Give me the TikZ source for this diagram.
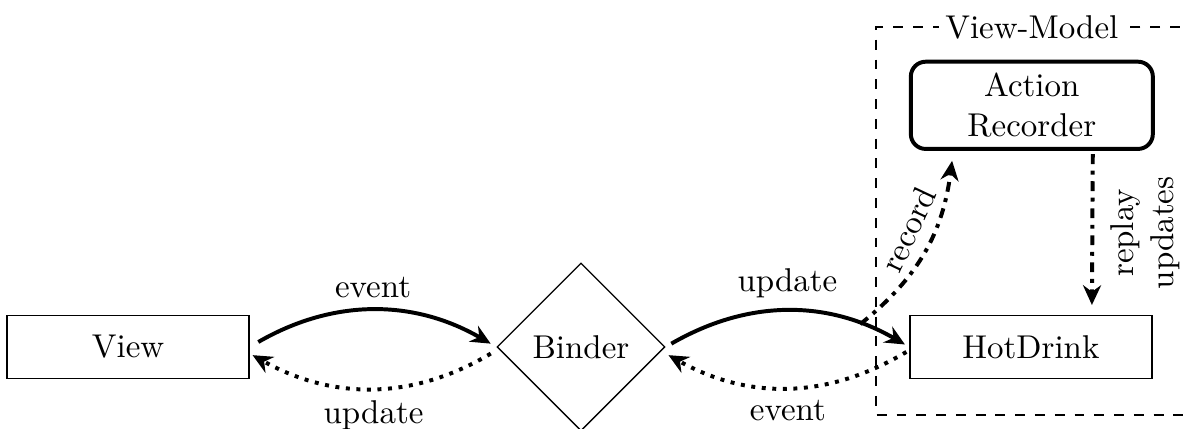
\documentclass[tikz,border=0pt]{standalone}
\usepackage{amsmath}
\usepackage{tikz}
\usetikzlibrary{shapes.geometric,arrows.meta}

\begin{document}
\begin{tikzpicture}
	\tikzstyle{box}=[draw=black, thin, minimum width=2.58cm, minimum height=0.67cm]
	\tikzstyle{arr}=[black, very thick, -{Stealth[length=6pt,width=5.5pt,inset=2pt]}]
	\useasboundingbox (0,0) rectangle (12.633,4.563);
	% frame of the view-model
	\draw [black, semithick, dashed] (13.0,4.275) -- (9.34,4.275) -- (9.34,0.139) -- (13.0,0.139);
	\node [fill=white, inner sep=2pt] (vmlabel) at (11.0,4.275) {View-Model};
	% nodes
	\node [box] (view) at (1.365,0.864) {View};
	\node [draw=black, thin, diamond, minimum size=1.79cm, inner sep=0pt] (binder) at (6.194,0.864) {Binder};
	\node [box] (hotdrink) at (10.99,0.864) {HotDrink};
	\node [box, very thick, rounded corners=4.5pt, minimum height=0.93cm, align=center] (recorder) at (11.0,3.44) {Action\\Recorder};
	% view <-> binder
	\draw [arr, shorten <=3pt, shorten >=2pt] (view.east) to [bend left] node [above] {event} (binder.west);
	\draw [arr, dotted, shorten <=2pt, shorten >=1pt] ([yshift=-1pt]binder.west) to [bend left] node [below] {update} ([yshift=-2pt]view.east);
	% binder <-> hotdrink
	\draw [arr, shorten <=2pt, shorten >=1.5pt] (binder.east) to [bend left] node [above] {update} coordinate [pos=0.8] (recstart) (hotdrink.west);
	\draw [arr, dotted, shorten <=1pt, shorten >=1pt] ([yshift=-1pt]hotdrink.west) to [bend left] node [below] {event} ([yshift=-2pt]binder.east);
	% recorder
	\draw [arr, dashdotted] (recstart) to [bend right=22] node [above, sloped, pos=0.58] {record} ([xshift=-0.85cm,yshift=-3pt]recorder.south);
	\draw [arr, dashdotted, shorten <=1pt, shorten >=3pt] ([xshift=0.65cm]recorder.south) -- node [anchor=north, rotate=90, align=center, inner sep=5pt] {replay\\updates} ([xshift=0.65cm]hotdrink.north);
\end{tikzpicture}
\end{document}
